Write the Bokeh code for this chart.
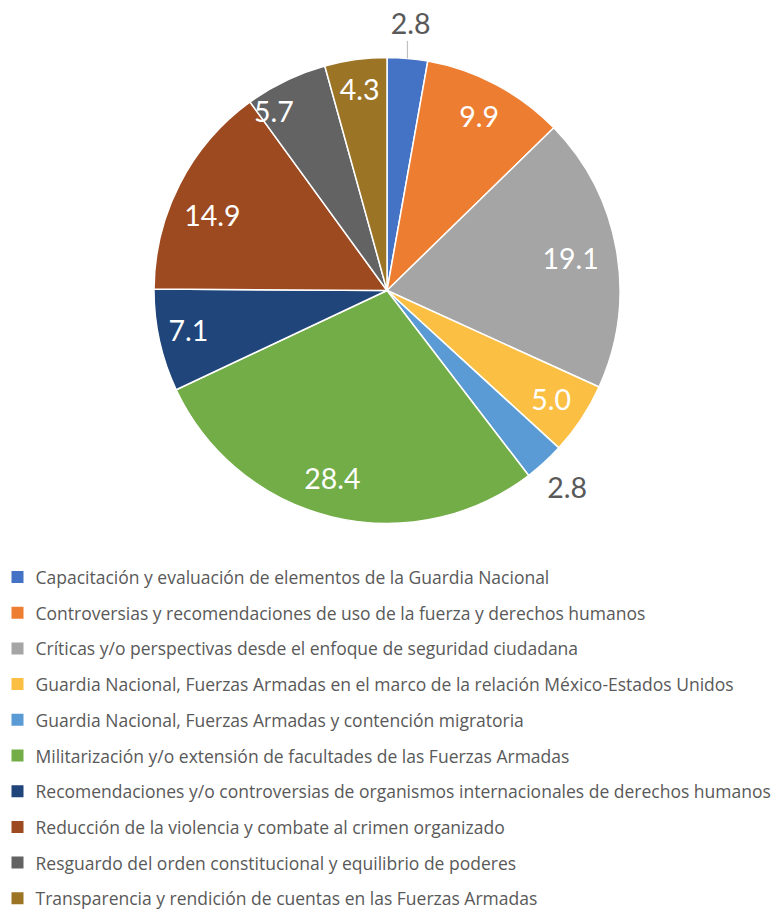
import math
from bokeh.plotting import figure
from bokeh.models import Range1d, ColumnDataSource
from bokeh.core.properties import value
from bokeh.embed import file_html
from bokeh.resources import INLINE

categories = [
    "Capacitación y evaluación de elementos de la Guardia Nacional",
    "Controversias y recomendaciones de uso de la fuerza y derechos humanos",
    "Críticas y/o perspectivas desde el enfoque de seguridad ciudadana",
    "Guardia Nacional, Fuerzas Armadas en el marco de la relación México-Estados Unidos",
    "Guardia Nacional, Fuerzas Armadas y contención migratoria",
    "Militarización y/o extensión de facultades de las Fuerzas Armadas",
    "Recomendaciones y/o controversias de organismos internacionales de derechos humanos",
    "Reducción de la violencia y combate al crimen organizado",
    "Resguardo del orden constitucional y equilibrio de poderes",
    "Transparencia y rendición de cuentas en las Fuerzas Armadas",
]
values = [2.8, 9.9, 19.1, 5.0, 2.8, 28.4, 7.1, 14.9, 5.7, 4.3]
labels = ["2.8", "9.9", "19.1", "5.0", "2.8", "28.4", "7.1", "14.9", "5.7", "4.3"]
colors = ["#4472C4", "#ED7D31", "#A5A5A5", "#FBBF44", "#5B9BD5",
          "#72AD47", "#20457A", "#9E4A20", "#636363", "#9C7426"]

W, H = 777, 911
CX, CY, R = 386.5, H - 290, 233
FONT = "Lato"
LEG_FONT = "Open Sans"

p = figure(width=W, height=H, x_range=Range1d(0, W), y_range=Range1d(0, H),
           output_backend="svg", toolbar_location=None, min_border=0)
p.axis.visible = False
p.grid.visible = False
p.outline_line_color = None
p.background_fill_color = "white"

total = sum(values)
starts, ends, mids = [], [], []
cum = 0.0
for v in values:
    a0 = math.pi / 2 - cum / total * 2 * math.pi
    cum += v
    a1 = math.pi / 2 - cum / total * 2 * math.pi
    starts.append(a0)
    ends.append(a1)
    mids.append((a0 + a1) / 2)

src = ColumnDataSource(dict(start=starts, end=ends, color=colors))
p.wedge(x=CX, y=CY, radius=R, start_angle="start", end_angle="end",
        direction="clock", fill_color="color", line_color="white",
        line_width=1.5, source=src)

# label placement (layout tweaks: radial factor, angular nudge in degrees, clockwise positive)
radial = [1.15, 0.845, 0.80, 0.845, 1.145, 0.84, 0.87, 0.815, 0.91, 0.87]
nudge = [0, 0, 0, 0, 0, 2.5, 1, -4, -6.5, 0]
lx, ly, lc = [], [], []
for i, (v, m) in enumerate(zip(values, mids)):
    outside = v < 4
    r = R * radial[i]
    ang = m - math.radians(nudge[i])
    lx.append(CX + r * math.cos(ang))
    ly.append(CY + r * math.sin(ang))
    lc.append("#595959" if outside else "white")
    if outside and i == 0:
        lxx = CX + R * math.cos(ang)
        p.segment(x0=lxx, y0=CY + R * math.sin(ang),
                  x1=lxx, y1=CY + R * 1.075 * math.sin(ang),
                  line_color="#BFBFBF", line_width=1.2)

lsrc = ColumnDataSource(dict(x=lx, y=ly, t=labels, c=lc))
p.text(x="x", y="y", text="t", text_color="c", source=lsrc,
       text_font=value(FONT), text_font_size="28.5px",
       text_align="center", text_baseline="middle")

# legend
ys = [H - (576.5 + 35.7 * i) for i in range(len(categories))]
p.rect(x=[17] * len(categories), y=ys, width=12, height=12,
       fill_color=colors, line_color=None)
p.text(x=[35] * len(categories), y=ys, text=categories,
       text_color="#595959", text_font=value(LEG_FONT), text_font_size="17.5px",
       text_align="left", text_baseline="middle")

open("out.html", "w").write(file_html(p, INLINE))
